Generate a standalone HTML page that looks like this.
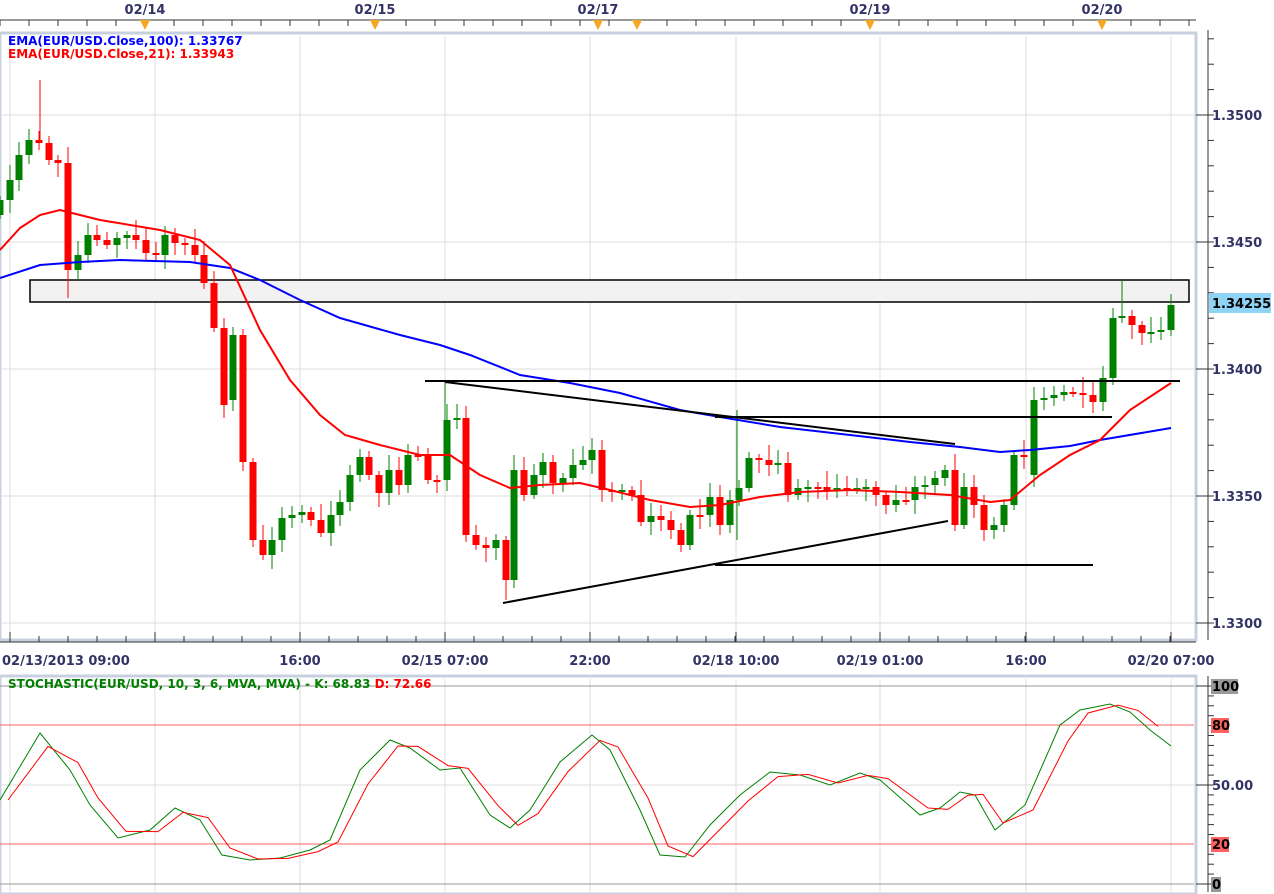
<!DOCTYPE html><html><head><style>body{margin:0;background:#fff}svg{display:block}text{font-family:"DejaVu Sans","Liberation Sans",sans-serif;font-weight:bold}</style></head><body>
<svg id="s" width="1274" height="894" xmlns="http://www.w3.org/2000/svg"></svg>
<script>
const S=document.getElementById('s');let h='';
const L=(x1,y1,x2,y2,c,w)=>h+=`<line x1="${x1}" y1="${y1}" x2="${x2}" y2="${y2}" stroke="${c}" stroke-width="${w||1}"/>`;
const T=(x,y,t,c,s,a)=>h+=`<text x="${x}" y="${y}" fill="${c}" font-size="${s||13}" text-anchor="${a||'start'}">${t}</text>`;
const P=(pts,c,w)=>h+=`<polyline points="${pts.map(p=>p.join(',')).join(' ')}" fill="none" stroke="${c}" stroke-width="${w||1}"/>`;
// frames
h+=`<rect x="0" y="33" width="1196" height="607" fill="#fff" stroke="#c8d0e0" stroke-width="3"/>`;
h+=`<rect x="0" y="676" width="1196" height="218" fill="#fff" stroke="#c8d0e0" stroke-width="3"/>`;
const gx=[10,155,300,445,590,736,880,1026,1171];
gx.forEach(x=>{L(x,36,x,638,'#ddd');L(x,679,x,892,'#ddd');L(x,632,x,642,'#333');});
[115,242,369,496,623].forEach(y=>{L(2,y,1194,y,'#ddd');L(1196,y,1208,y,'#333');});
for(let y=115-127/5*3;y<640;y+=127/5)if(y>36)L(1208,y,1214,y,'#333');
L(1208,30,1208,640,'#333');L(0,642,1196,642,'#333');
for(let x=10;x<1196;x+=29)L(x,636,x,642,'#333');
[['1.3500',115],['1.3450',242],['1.3400',369],['1.3350',496],['1.3300',623]].forEach(([t,y])=>T(1212,y+5,t,'#333366',13));
h+=`<rect x="1209" y="293" width="62" height="20" fill="#8fd3f5"/>`;T(1212,308,'1.34255','#000',13);
// top axis
L(0,20,1196,20,'#333');for(let x=0;x<1196;x+=29)L(x,20,x,26,'#333');
[['02/14',145],['02/15',375],['02/17',598],['02/19',870],['02/20',1102]].forEach(([t,x])=>T(x,14,t,'#333366',13,'middle'));
[145,375,598,637,870,1102].forEach(x=>h+=`<polygon points="${x-5},20 ${x+5},20 ${x},30" fill="#f5a623"/>`);
T(8,45,'EMA(EUR/USD.Close,100): 1.33767','#0000ff',12);T(8,58,'EMA(EUR/USD.Close,21): 1.33943','#ff0000',12);
// bottom labels
[['02/13/2013 09:00',2,'start'],['16:00',300],['02/15 07:00',445],['22:00',590],['02/18 10:00',736],['02/19 01:00',880],['16:00',1026],['02/20 07:00',1171]].forEach(([t,x,a])=>T(x,665,t,'#333366',13,a||'middle'));
// shapes
h+=`<rect x="30" y="280" width="1159" height="22" fill="#f2f2f2" stroke="#000" stroke-width="1.5"/>`;
// candles
const c=[[0,215,200],[10,200,180],[19,180,155],[29,155,140],[39,140,143],[49,143,160],[58,160,163],[68,163,270],[78,270,255],[88,255,235],[97,235,240],[107,240,245],[117,245,238],[127,238,235],[136,235,240],[146,240,253],[156,253,255],[165,255,235],[175,235,243],[185,243,245],[195,245,255],[204,255,283],[214,283,328],[224,328,405],[233,400,335],[243,335,462],[253,462,540],[263,540,555],[272,555,540],[282,540,518],[292,518,515],[302,515,512],[311,512,520],[321,520,533],[331,533,515],[340,515,502],[350,502,475],[360,475,457],[369,457,475],[379,475,493],[389,493,470],[399,470,485],[408,485,455],[418,455,455],[428,455,480],[437,480,480],[447,480,420],[457,420,418],[466,418,535],[476,535,545],[486,545,548],[496,548,540],[506,540,580],[514,580,470],[524,470,495],[534,495,475],[543,475,462],[553,462,483],[563,483,478],[573,478,465],[583,465,460],[592,460,450],[602,450,490],[612,490,492],[622,492,490],[632,490,495],[641,495,522],[651,522,516],[661,516,520],[671,520,530],[681,530,545],[690,545,515],[700,515,515],[710,515,497],[720,497,525],[730,525,500],[739,500,488],[749,488,458],[759,458,460],[769,460,465],[778,465,463],[788,463,495],[798,495,488],[808,488,487],[818,487,487],[827,487,490],[837,490,488],[847,488,490],[857,490,488],[866,488,487],[876,487,495],[886,495,505],[896,505,500],[906,500,500],[915,500,487],[925,487,485],[935,485,478],[945,478,470],[955,470,525],[964,525,487],[974,487,505],[984,505,530],[994,530,525],[1004,525,505],[1014,505,455],[1024,455,455],[1034,475,400],[1044,400,398],[1054,398,395],[1064,395,392],[1073,392,393],[1083,393,395],[1093,395,402],[1103,402,378],[1113,378,318],[1122,318,316],[1132,316,325],[1142,325,333],[1151,333,332],[1161,332,330],[1171,330,305]];
c.forEach(([x,o,cl],i)=>{const up=cl<o;const col=up?'#008000':'#ff0000';const t=Math.min(o,cl),b=Math.max(o,cl);const w=((i*37)%13)+4;L(x,t-w,x,b+((i*53)%11)+4,col);h+=`<rect x="${x-3.5}" y="${t}" width="7" height="${Math.max(b-t,2)}" fill="${col}"/>`;});
L(40,80,40,143,'#ff0000');L(68,160,68,298,'#ff0000');L(1122,280,1122,318,'#008000');L(737,410,737,540,'#008000');L(445,380,445,480,'#008000');L(506,540,506,600,'#ff0000');
P([[0,278],[40,265],[80,262],[120,260],[190,262],[230,268],[260,280],[300,300],[340,318],[400,335],[440,345],[470,355],[520,375],[570,383],[620,393],[680,410],[720,417],[780,427],[850,435],[910,442],[960,447],[1000,452],[1030,450],[1070,446],[1100,440],[1171,428]],'#0000ff',2);
P([[0,250],[20,228],[40,215],[60,210],[100,220],[160,230],[200,240],[230,265],[260,330],[290,380],[320,415],[345,435],[380,445],[420,455],[450,455],[480,475],[510,488],[540,485],[580,483],[610,490],[650,500],[690,507],[720,505],[760,497],[800,492],[850,490],[900,492],[950,495],[990,502],[1010,500],[1040,475],[1070,455],[1100,440],[1130,410],[1171,383]],'#ff0000',2);
L(425,381,1180,381,'#000',2);L(445,382,955,444,'#000',2);L(715,417,1112,417,'#000',2);L(503,603,948,521,'#000',2);L(715,565,1093,565,'#000',2);
// stochastic
L(0,686,1194,686,'#999');L(0,884,1194,884,'#999');L(0,725,1194,725,'#ff6060');L(0,844,1194,844,'#ff6060');L(0,785,1194,785,'#ddd');
L(1208,676,1208,892,'#333');for(let y=686;y<=884;y+=9.9)L(1208,y,1214,y,'#333');[686,785,884].forEach(y=>L(1196,y,1208,y,'#333'));
h+=`<rect x="1211" y="679" width="27" height="15" fill="#999"/><rect x="1211" y="718" width="18" height="15" fill="#ff6060"/><rect x="1211" y="837" width="18" height="15" fill="#ff6060"/><rect x="1211" y="877" width="10" height="15" fill="#999"/>`;
T(1212,691,'100','#000',13);T(1212,730,'80','#000',13);T(1212,790,'50.00','#333366',13);T(1212,849,'20','#000',13);T(1212,889,'0','#000',13);
T(8,688,'STOCHASTIC(EUR/USD, 10, 3, 6, MVA, MVA) -  K: 68.83  <tspan fill="#ff0000">D: 72.66</tspan>','#008000',12);
const k=[[0,800],[40,733],[70,770],[90,805],[118,838],[150,830],[175,808],[200,820],[222,855],[250,860],[280,858],[310,850],[330,840],[360,770],[390,740],[410,748],[440,770],[460,768],[490,815],[510,828],[530,810],[560,762],[592,735],[610,750],[640,810],[660,855],[685,857],[710,825],[740,795],[770,772],[800,775],[830,785],[860,773],[880,780],[920,815],[940,808],[960,792],[975,795],[995,830],[1025,805],[1060,725],[1080,710],[1110,704],[1130,712],[1150,730],[1171,746]];
P(k,'#008000');P(k.map(([x,y],i)=>[x+8,i?y+(k[i-1][1]-y)*0.2:y]).filter(p=>p[0]<=1172),'#ff0000');
S.innerHTML=h;
</script></body></html>
